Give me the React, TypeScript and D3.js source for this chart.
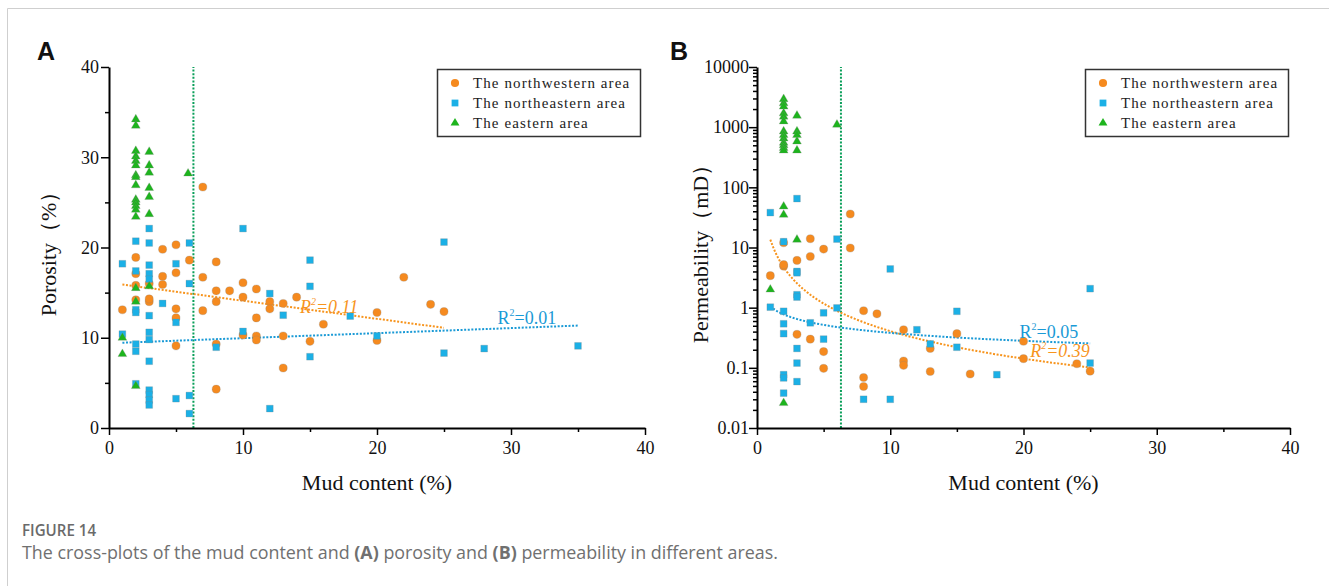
import React, { useRef, useEffect } from 'react';
import * as d3 from 'd3';

const W = 1329;
const H = 586;

// ---- panel A: porosity (%) against mud content (%) ----
const nwPorosity: [number, number][] = [
  [7, 26.7], [4, 19.8], [5, 20.3], [2, 18.9], [6, 18.6], [8, 18.4], [5, 17.2], [4, 16.8],
  [2, 17.1], [7, 16.7], [4, 15.9], [2, 15.8], [3, 16.0], [10, 16.1], [8, 15.2], [9, 15.2],
  [11, 15.4], [10, 14.5], [8, 14.0], [3, 14.0], [3, 14.3], [2, 14.2], [1, 13.1], [5, 13.2], [7, 13.0],
  [5, 12.2], [11, 12.2], [11, 10.2], [11, 9.75], [8, 9.3], [5, 9.1], [8, 4.3], [22, 16.7],
  [12, 14.0], [12, 13.2], [13, 13.8], [14, 14.5], [16, 11.5], [24, 13.7], [25, 12.9],
  [20, 12.8], [10, 10.3], [13, 10.2], [15, 9.6], [20, 9.7], [13, 6.65],
];
const nePorosity: [number, number][] = [
  [3, 22.1], [10, 22.1], [2, 20.7], [3, 20.5], [6, 20.5], [1, 18.2], [5, 18.2], [3, 18.05],
  [2, 17.4], [3, 17.1], [3, 16.5], [6, 16.0], [4, 13.8], [2, 13.1], [2, 12.8], [3, 12.45],
  [5, 11.7], [1, 10.4], [3, 10.6], [3, 9.8], [2, 9.3], [2, 8.5], [3, 7.4], [10, 10.7],
  [8, 8.95], [2, 4.9], [3, 4.2], [3, 3.7], [3, 3.1], [3, 2.55], [5, 3.25], [6, 3.6], [6, 1.6],
  [15, 18.6], [15, 15.7], [12, 14.9], [13, 12.5], [18, 12.4], [20, 10.2], [15, 7.9], [12, 2.15],
  [25, 20.6], [25, 8.3], [28, 8.8], [35, 9.1],
];
const eaPorosity: [number, number][] = [
  [2, 34.2], [2, 33.5], [2, 30.7], [2, 30.1], [2, 29.6], [2, 29.1], [2, 28.0], [2, 27.8],
  [2, 26.9], [2, 25.3], [2, 25.0], [2, 24.6], [2, 24.2], [2, 23.4], [2, 15.5], [2, 14.0],
  [2, 4.65], [3, 30.6], [3, 29.1], [3, 28.3], [3, 26.6], [3, 25.6], [3, 23.7], [3, 15.7],
  [1, 10.0], [1, 8.2], [5.9, 28.2],
];

// ---- panel B: permeability (mD) against mud content (%) ----
const nwPermeability: [number, number][] = [
  [7, 36], [4, 14], [5, 9.4], [7, 9.8], [2, 12], [3, 6.1], [4, 7.1], [2, 4.9], [2, 5.2],
  [1, 3.4], [8, 0.89], [9, 0.79], [3, 0.36], [4, 0.3], [5, 0.186], [5, 0.098], [8, 0.069],
  [8, 0.049], [11, 0.43], [11, 0.13], [11, 0.11], [13, 0.21], [13, 0.087], [15, 0.37],
  [16, 0.079], [20, 0.276], [20, 0.142], [24, 0.117], [25, 0.088],
];
const nePermeability: [number, number][] = [
  [3, 65], [1, 38], [2, 12.5], [6, 13.8], [10, 4.4], [3, 4.0], [3, 3.8], [3, 1.64], [3, 1.5],
  [1, 1.02], [2, 0.87], [6, 0.99], [5, 0.82], [4, 0.56], [2, 0.54], [2, 0.37], [5, 0.3],
  [3, 0.21], [3, 0.12], [2, 0.077], [2, 0.068], [3, 0.059], [2, 0.038], [8, 0.03], [10, 0.03],
  [15, 0.87], [12, 0.43], [13, 0.25], [15, 0.22], [18, 0.077], [25, 2.07], [25, 0.12],
];
const eaPermeability: [number, number][] = [
  [2, 2930], [2, 2500], [2, 2200], [2, 1700], [2, 1500], [2, 1250], [2, 850], [2, 740],
  [2, 650], [2, 550], [2, 500], [2, 450], [2, 410], [2, 48], [2, 35], [2, 0.026],
  [3, 1550], [3, 850], [3, 740], [3, 580], [3, 410], [3, 13.5], [1, 2.0], [6, 1100],
];

// trend lines
const nwPoroTrend = { x0: 1, y0: 15.9, x1: 25, y1: 11.1, r2: '0.11' };
const nePoroTrend = { x0: 1, y0: 9.45, x1: 35, y1: 11.35, r2: '0.01' };
const nwPermTrend = { a: 13.5, b: -1.52, x0: 1, x1: 25, r2: '0.39' };
const nePermTrend = { a: 1.05, b: -0.44, x0: 1, x1: 25, r2: '0.05' };
const mudCutoff = 6.3;

const seriesNames = ['The northwestern area', 'The northeastern area', 'The eastern area'];
const xMajor = [0, 10, 20, 30, 40];
const xMinor = [5, 15, 25, 35];
const poroMajor = [0, 10, 20, 30, 40];
const poroMinor = [5, 15, 25, 35];
const permMajor = [0.01, 0.1, 1, 10, 100, 1000, 10000];

const ORANGE = '#F58A1F';
const BLUE = '#1BB0E6';
const GREEN = '#1DB41D';
const ORANGE_LINE = '#F7941D';
const BLUE_LINE = '#1A9AD6';
const CUT_LINE = '#0A9F5A';
const serif = '"Liberation Serif", "Times New Roman", serif';

const symbols = [d3.symbolCircle, d3.symbolSquare, d3.symbolTriangle];
const symSizes = [52, 46, 34];
const colors = [ORANGE, BLUE, GREEN];

const App = () => {
  const svgRef = useRef<SVGSVGElement>(null);

  useEffect(() => {
    const svg = d3.select(svgRef.current);
    svg.selectAll('*').remove();

    svg.append('rect').attr('width', W).attr('height', H).attr('fill', 'white');
    // card frame
    svg.append('path').attr('d', `M7.5,${H} V8.5 H${W}`)
      .attr('fill', 'none').attr('stroke', '#cfcfcf').attr('stroke-width', 1);

    const drawPanel = (cfg: any) => {
      const { x, y, majorY, minorY, yFormat, yPad, data, title, letter, legendX } = cfg;
      const g = svg.append('g');
      const [x0, x1] = x.range();
      const [yb, yt] = y.range();

      // mud content cutoff
      g.append('line')
        .attr('x1', x(mudCutoff)).attr('x2', x(mudCutoff))
        .attr('y1', yb).attr('y2', yt)
        .attr('stroke', CUT_LINE).attr('stroke-width', 2).attr('stroke-dasharray', '2,1.6');

      // trend lines
      cfg.trends.forEach((t: any) => {
        g.append('path')
          .attr('d', d3.line<[number, number]>().x(d => x(d[0])).y(d => y(d[1]))(t.pts))
          .attr('fill', 'none').attr('stroke', t.color).attr('stroke-width', 2)
          .attr('stroke-dasharray', '2,1.6');
      });

      // points
      data.forEach((pts: [number, number][], i: number) => {
        g.append('g').selectAll('path').data(pts).enter().append('path')
          .attr('d', d3.symbol().type(symbols[i]).size(symSizes[i])())
          .attr('transform', d => `translate(${x(d[0])},${y(d[1])})`)
          .attr('fill', colors[i])
          .attr('stroke', 'rgba(130,130,130,0.45)').attr('stroke-width', 0.6);
      });

      // R² labels
      cfg.trends.forEach((t: any) => {
        const tx = g.append('text')
          .attr('x', x(t.lx)).attr('y', y(t.ly))
          .attr('font-family', serif).attr('font-size', 18)
          .attr('font-style', t.italic ? 'italic' : 'normal')
          .attr('fill', t.color);
        tx.append('tspan').text('R');
        tx.append('tspan').attr('font-size', 10).attr('dy', -8).text('2');
        tx.append('tspan').attr('dy', 8).text(`=${t.r2}`);
      });

      // axes
      const styleAxis = (a: any) => {
        a.select('.domain').attr('stroke-width', 2);
        a.selectAll('.tick line').attr('stroke-width', 1.5);
        a.selectAll('text').attr('font-family', serif).attr('font-size', 18).attr('fill', '#111');
      };
      const ya = g.append('g').attr('transform', `translate(${x0},0)`)
        .call(d3.axisLeft(y).tickValues(majorY).tickFormat(yFormat).tickSize(8).tickSizeOuter(0).tickPadding(yPad));
      styleAxis(ya);
      const ym = g.append('g').attr('transform', `translate(${x0},0)`)
        .call(d3.axisLeft(y).tickValues(minorY).tickFormat(() => '').tickSize(4).tickSizeOuter(0));
      ym.select('.domain').remove();
      ym.selectAll('.tick line').attr('stroke-width', 1.5);

      const xa = g.append('g').attr('transform', `translate(0,${yb})`)
        .call(d3.axisBottom(x).tickValues(xMajor).tickFormat(d3.format('d')).tickSize(7).tickSizeOuter(0).tickPadding(6));
      styleAxis(xa);
      const xm = g.append('g').attr('transform', `translate(0,${yb})`)
        .call(d3.axisBottom(x).tickValues(xMinor).tickFormat(() => '').tickSize(4).tickSizeOuter(0));
      xm.select('.domain').remove();
      xm.selectAll('.tick line').attr('stroke-width', 1.5);

      // axis titles
      g.append('text')
        .attr('x', (x0 + x1) / 2).attr('y', yb + 62)
        .attr('text-anchor', 'middle').attr('font-family', serif).attr('font-size', 22)
        .attr('fill', '#111').text('Mud content (%)');
      g.append('text')
        .attr('transform', `translate(${cfg.titleX},${(yb + yt) / 2 + 1}) rotate(-90)`)
        .attr('text-anchor', 'middle').attr('dy', '0.35em')
        .attr('font-family', serif).attr('font-size', 22).attr('fill', '#111')
        .text(title);

      // panel letter
      g.append('text').attr('x', cfg.letterX).attr('y', 60)
        .attr('font-family', '"Liberation Sans", Arial, sans-serif').attr('font-weight', 'bold')
        .attr('font-size', 25).attr('fill', '#111').text(letter);

      // legend
      const lg = g.append('g').attr('transform', `translate(${legendX},69)`);
      lg.append('rect').attr('x', 0.5).attr('y', 0.5).attr('width', 203).attr('height', 67)
        .attr('fill', 'white').attr('stroke', '#333').attr('stroke-width', 1.5);
      seriesNames.forEach((name, i) => {
        const ry = 14 + i * 20;
        lg.append('path').attr('d', d3.symbol().type(symbols[i]).size(symSizes[i])())
          .attr('transform', `translate(18,${ry})`).attr('fill', colors[i]);
        lg.append('text').attr('x', 36).attr('y', ry + 5)
          .attr('font-family', serif).attr('font-size', 15).attr('letter-spacing', 1.1)
          .attr('fill', '#222').text(name);
      });
    };

    // panel A
    const xA = d3.scaleLinear().domain([0, 40]).range([109, 645]);
    const yA = d3.scaleLinear().domain([0, 40]).range([428, 67]);
    drawPanel({
      x: xA, y: yA, majorY: poroMajor, minorY: poroMinor, yFormat: d3.format('d'), yPad: 2,
      data: [nwPorosity, nePorosity, eaPorosity],
      title: 'Porosity（%）', titleX: 48, letter: 'A', letterX: 37, legendX: 437,
      trends: [
        { pts: [[nwPoroTrend.x0, nwPoroTrend.y0], [nwPoroTrend.x1, nwPoroTrend.y1]], color: ORANGE_LINE,
          r2: nwPoroTrend.r2, italic: true, lx: 14.25, ly: 12.7 },
        { pts: [[nePoroTrend.x0, nePoroTrend.y0], [nePoroTrend.x1, nePoroTrend.y1]], color: BLUE_LINE,
          r2: nePoroTrend.r2, italic: false, lx: 29.0, ly: 11.5 },
      ],
    });

    // panel B
    const xB = d3.scaleLinear().domain([0, 40]).range([757, 1290]);
    const yB = d3.scaleLog().domain([0.01, 10000]).range([428, 67]);
    const permMinor: number[] = [];
    permMajor.slice(0, -1).forEach(m => { for (let k = 2; k <= 9; k++) permMinor.push(m * k); });
    const powerPts = (t: any) => d3.range(t.x0, t.x1 + 0.01, 0.25).map(v => [v, t.a * Math.pow(v, t.b)] as [number, number]);
    drawPanel({
      x: xB, y: yB, majorY: permMajor, minorY: permMinor, yFormat: (d: number) => String(d), yPad: 0,
      data: [nwPermeability, nePermeability, eaPermeability],
      title: 'Permeability（mD）', titleX: 700, letter: 'B', letterX: 670, legendX: 1085,
      trends: [
        { pts: powerPts(nwPermTrend), color: ORANGE_LINE, r2: nwPermTrend.r2, italic: true, lx: 20.5, ly: 0.153 },
        { pts: powerPts(nePermTrend), color: BLUE_LINE, r2: nePermTrend.r2, italic: false, lx: 19.7, ly: 0.318 },
      ],
    });

    // caption
    svg.append('text').attr('x', 22).attr('y', 536)
      .attr('font-family', '"Open Sans", sans-serif').attr('font-size', 17).attr('font-weight', 600)
      .attr('textLength', 74).attr('lengthAdjust', 'spacingAndGlyphs')
      .attr('fill', '#6a6a6a').text('FIGURE 14');
    const cap = svg.append('text').attr('x', 22).attr('y', 559)
      .attr('font-family', '"Open Sans", sans-serif').attr('font-size', 18).attr('fill', '#707070')
      .attr('textLength', 756).attr('lengthAdjust', 'spacingAndGlyphs');
    cap.append('tspan').text('The cross-plots of the mud content and ');
    cap.append('tspan').attr('font-weight', 'bold').text('(A)');
    cap.append('tspan').text(' porosity and ');
    cap.append('tspan').attr('font-weight', 'bold').text('(B)');
    cap.append('tspan').text(' permeability in different areas.');
  }, []);

  return <svg ref={svgRef} width={W} height={H} style={{ position: 'absolute', left: 0, top: 0 }}></svg>;
};

export default App;
